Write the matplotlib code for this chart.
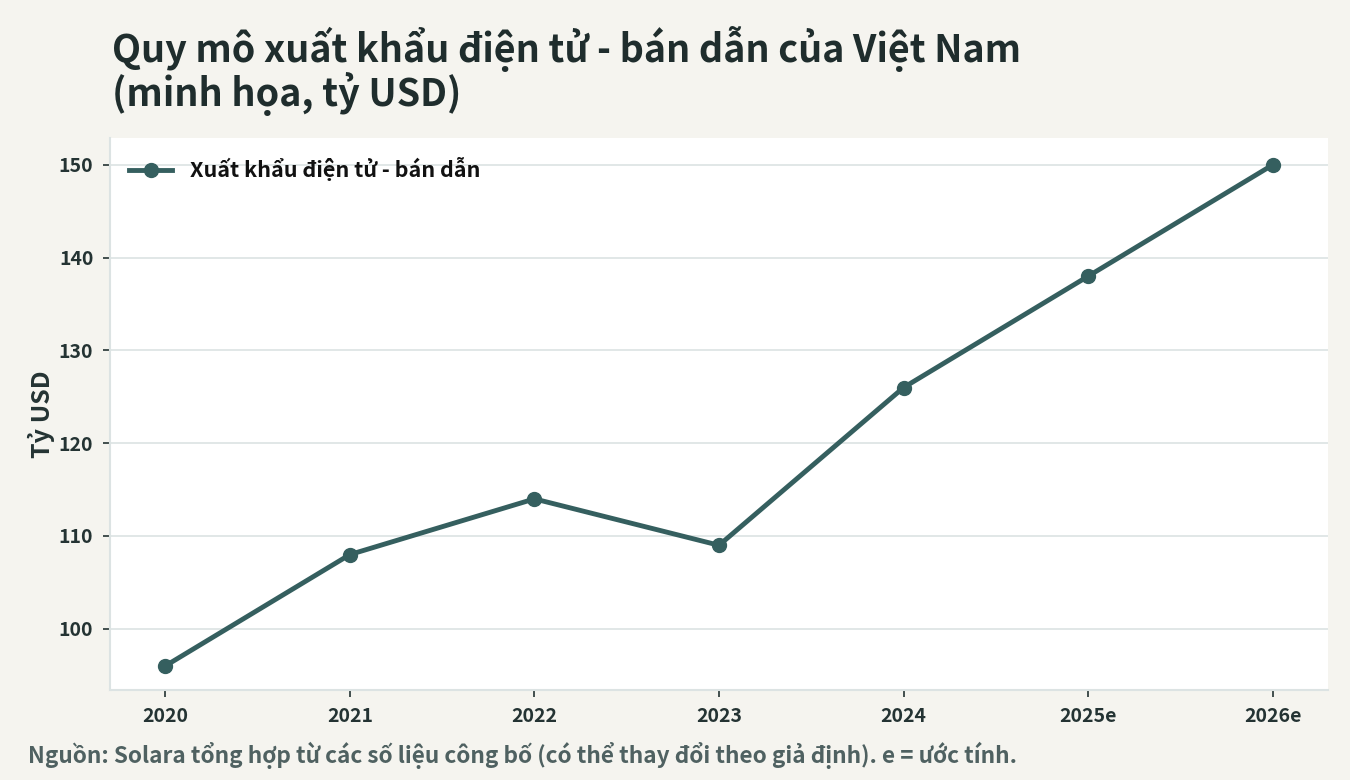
import matplotlib
matplotlib.use("Agg")
import matplotlib.pyplot as plt

years = ["2020", "2021", "2022", "2023", "2024", "2025e", "2026e"]
exports = [96, 108, 114, 109, 126, 138, 150]
series_label = "Xuất khẩu điện tử - bán dẫn"
title = "Quy mô xuất khẩu điện tử - bán dẫn của Việt Nam\n(minh họa, tỷ USD)"
source = "Nguồn: Solara tổng hợp từ các số liệu công bố (có thể thay đổi theo giả định). e = ước tính."

plt.rcParams["font.family"] = ["Noto Sans CJK SC", "Noto Sans", "DejaVu Sans"]
plt.rcParams["font.weight"] = "bold"

bg = "#f5f4ef"
ink = "#243333"
line_col = "#355f5f"
grid_col = "#dce3e3"

fig = plt.figure(figsize=(13.5, 7.8), dpi=100, facecolor=bg)
ax = fig.add_axes([110 / 1350, 90 / 780, 1218 / 1350, 552 / 780])
ax.set_facecolor("white")

x = list(range(len(years)))
ax.plot(x, exports, color=line_col, lw=3.5, marker="o", ms=10, label=series_label, zorder=3)

ax.set_xlim(-0.30, 6.30)
ax.set_ylim(93.4, 152.9)
ax.set_xticks(x)
ax.set_xticklabels(years)
ax.set_yticks([100, 110, 120, 130, 140, 150])
ax.grid(axis="y", color=grid_col, lw=1.2)
ax.set_axisbelow(True)

for s in ["top", "right"]:
    ax.spines[s].set_visible(False)
for s in ["left", "bottom"]:
    ax.spines[s].set_color(grid_col)
    ax.spines[s].set_linewidth(1.5)
ax.tick_params(colors=ink, labelsize=14, length=5, width=1.2, pad=7)
for lbl in ax.get_xticklabels() + ax.get_yticklabels():
    lbl.set_fontweight("bold")

ax.set_ylabel("Tỷ USD", fontsize=18, fontweight="bold", color=ink, labelpad=3)

leg = ax.legend(loc="upper left", frameon=False, fontsize=15.5, handlelength=2.0,
                borderaxespad=0.5, bbox_to_anchor=(0.0, 1.0))
for t in leg.get_texts():
    t.set_color("#111111")

fig.text(112 / 1350, 1 - 26 / 780, title, ha="left", va="top", fontsize=27.2,
         fontweight="bold", color="#1f2d2d", linespacing=1.0)
fig.text(28 / 1350, 1 - 755 / 780, source, ha="left", va="center", fontsize=16.25,
         fontweight="bold", color="#4f6161")

fig.savefig("out.png", dpi=100, facecolor=bg)
